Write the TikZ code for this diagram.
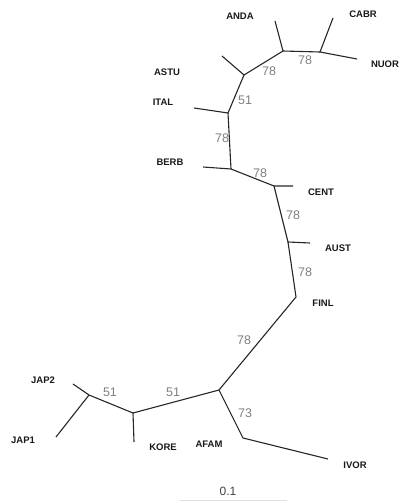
\documentclass[tikz,border=0pt]{standalone}
\usepackage{fontspec}
\setmainfont{Liberation Sans}
\newcommand{\bootHigh}{78}
\newcommand{\bootLow}{51}
\newcommand{\bootMid}{73}
\newcommand{\scaleLen}{0.1}

\begin{document}
\begin{tikzpicture}[x=1pt,y=-1pt,
        every node/.style={inner sep=0pt},
        branch/.style={line width=1.1pt, color=black!85},
        taxon/.style={font=\bfseries\fontsize{9.5}{10}\selectfont, color=black!90},
        boot/.style={font=\fontsize{12.5}{13}\selectfont, color=black!50}]
        \useasboundingbox (0,0) rectangle (401,503);
        % inner points and tips
        \coordinate (i_cabr) at (320, 52);
        \coordinate (t_cabr) at (333, 18);
        \coordinate (t_nuor) at (357, 59);
        \coordinate (i_anda) at (283, 51);
        \coordinate (t_anda) at (275, 21);
        \coordinate (i_astu) at (244, 75);
        \coordinate (t_astu) at (222, 56);
        \coordinate (i_ital) at (228, 113);
        \coordinate (t_ital) at (194, 108);
        \coordinate (i_berb) at (231, 169);
        \coordinate (t_berb) at (203, 167);
        \coordinate (i_cent) at (274, 186);
        \coordinate (t_cent) at (293, 186);
        \coordinate (i_aust) at (288, 242);
        \coordinate (t_aust) at (310, 243);
        \coordinate (t_finl) at (296, 297);
        \coordinate (i_afam) at (219, 390);
        \coordinate (i_ivor) at (243, 438);
        \coordinate (t_ivor) at (328, 459);
        \coordinate (i_kore) at (133, 413);
        \coordinate (t_kore) at (134, 442);
        \coordinate (i_jap) at (89, 395);
        \coordinate (t_jap2) at (73, 384);
        \coordinate (t_jap1) at (56, 437);
        \coordinate (s_left) at (180, 500);
        \coordinate (s_right) at (287, 500);

        % branches
        \draw [branch] (t_cabr) -- (i_cabr) -- (t_nuor);
        \draw [branch] (i_cabr) -- (i_anda) -- (t_anda);
        \draw [branch] (i_anda) -- (i_astu) -- (t_astu);
        \draw [branch] (i_astu) -- (i_ital) -- (t_ital);
        \draw [branch] (i_ital) -- (i_berb) -- (t_berb);
        \draw [branch] (i_berb) -- (i_cent) -- (t_cent);
        \draw [branch] (i_cent) -- (i_aust) -- (t_aust);
        \draw [branch] (i_aust) -- (t_finl) -- (i_afam);
        \draw [branch] (i_afam) -- (i_ivor) -- (t_ivor);
        \draw [branch] (i_afam) -- (i_kore) -- (t_kore);
        \draw [branch] (i_kore) -- (i_jap) -- (t_jap2);
        \draw [branch] (i_jap) -- (t_jap1);

        % taxa
        \node [taxon] (l_anda) at (240, 16) {ANDA};
        \node [taxon] (l_cabr) at (363, 14) {CABR};
        \node [taxon] (l_nuor) at (385, 64) {NUOR};
        \node [taxon] (l_astu) at (167, 72) {ASTU};
        \node [taxon] (l_ital) at (163, 102) {ITAL};
        \node [taxon] (l_berb) at (170, 162) {BERB};
        \node [taxon] (l_cent) at (321, 192) {CENT};
        \node [taxon] (l_aust) at (338, 248) {AUST};
        \node [taxon] (l_finl) at (323, 303) {FINL};
        \node [taxon] (l_jap2) at (43, 380) {JAP2};
        \node [taxon] (l_jap1) at (23, 440) {JAP1};
        \node [taxon] (l_kore) at (163, 447) {KORE};
        \node [taxon] (l_afam) at (209, 444) {AFAM};
        \node [taxon] (l_ivor) at (355, 465) {IVOR};

        % support values
        \node [boot] (b_cabr) at (305, 60) {\bootHigh};
        \node [boot] (b_anda) at (269, 71) {\bootHigh};
        \node [boot] (b_astu) at (245, 100) {\bootLow};
        \node [boot] (b_ital) at (222, 138) {\bootHigh};
        \node [boot] (b_berb) at (260, 173) {\bootHigh};
        \node [boot] (b_cent) at (293, 215) {\bootHigh};
        \node [boot] (b_aust) at (305, 272) {\bootHigh};
        \node [boot] (b_finl) at (244, 340) {\bootHigh};
        \node [boot] (b_ivor) at (245, 413) {\bootMid};
        \node [boot] (b_jap) at (110, 392) {\bootLow};
        \node [boot] (b_kore) at (173, 392) {\bootLow};

        % scale bar
        \node [font=\fontsize{12}{12}\selectfont, color=black!75] (l_scale) at (228, 491) {\scaleLen};
        \draw [line width=0.8pt, color=black!12] (s_left) -- (s_right);

    \end{tikzpicture}
\end{document}
